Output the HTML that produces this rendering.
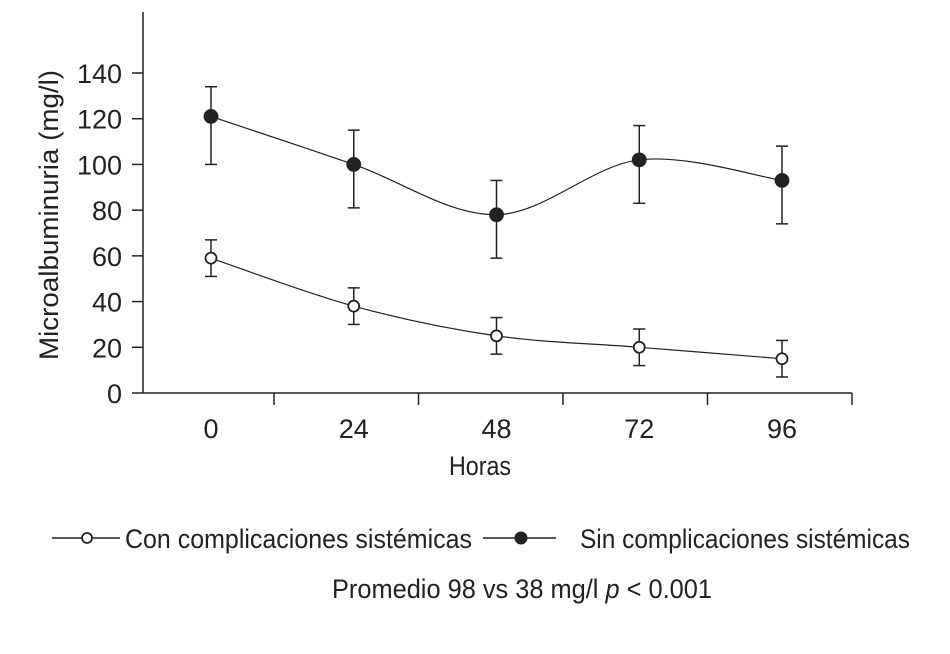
<!DOCTYPE html>
<html><head><meta charset="utf-8"><style>body{margin:0;background:#fff}svg{display:block}text{font-family:"Liberation Sans Narrow","Liberation Sans",sans-serif;fill:#222}</style></head>
<body>
<svg id="c" width="950" height="654"></svg>
<script>
const hours=[0,24,48,72,96];
const sinMean=[121,100,78,102,93];
const sinLo=[100,81,59,83,74];
const sinHi=[134,115,93,117,108];
const conMean=[59,38,25,20,15];
const conLo=[51,30,17,12,7];
const conHi=[67,46,33,28,23];
const yTicks=[0,20,40,60,80,100,120,140];
const xTickLabels=["0","24","48","72","96"];
const svg=document.getElementById('c');const NS='http://www.w3.org/2000/svg';
const X=h=>211+h*(782-211)/96;const Y=v=>393-v*(393-73)/140;
function mk(t,a,p){const e=document.createElementNS(NS,t);for(const k in a)e.setAttribute(k,a[k]);(p||svg).appendChild(e);return e;}
function line(x1,y1,x2,y2,n){const e=mk('line',{x1,y1,x2,y2,stroke:'#222','stroke-width':1.5});

return e;}
function txt(s,x,y,size,anchor,n,len){const e=mk('text',{x,y,'font-size':size,'text-anchor':anchor});if(len){e.setAttribute('textLength',len);e.setAttribute('lengthAdjust','spacingAndGlyphs');}e.textContent=s;

return e;}
line(143,12,143,393,'y-axis');line(143,393,852,393,'x-axis');
yTicks.forEach(v=>{line(132,Y(v),143,Y(v),'y-tick');txt(String(v),122,Y(v)+10,27,'end','y-tick-label');});
[0,1,2,3,4].forEach(i=>line(274+i*144.5,393,274+i*144.5,405,'x-tick'));
hours.forEach((h,i)=>txt(xTickLabels[i],X(h),438,27,'middle','x-tick-label'));
txt('Horas',480,475,27,'middle','x-axis-title',62);
const yt=txt('Microalbuminuria (mg/l)',0,0,27,'middle','y-axis-title',290);yt.setAttribute('transform','translate(58,215) rotate(-90)');
function curve(ms){const p=ms.map((m,i)=>[X(hours[i]),Y(m)]);let d='M'+p[0];for(let i=0;i<p.length-1;i++){const a=p[i-1]||p[i],b=p[i],c=p[i+1],e=p[i+2]||c;d+=` C${b[0]+(c[0]-a[0])/6},${b[1]+(c[1]-a[1])/6} ${c[0]-(e[0]-b[0])/6},${c[1]-(e[1]-b[1])/6} ${c[0]},${c[1]}`;}return d;}
function series(mean,lo,hi,filled,n){const path=mk('path',{d:curve(mean),fill:'none',stroke:'#222','stroke-width':1.2});


mean.forEach((m,i)=>{const x=X(hours[i]);line(x,Y(lo[i]),x,Y(hi[i]),n+'-error-bar');line(x-6,Y(lo[i]),x+6,Y(lo[i]),n+'-error-cap');line(x-6,Y(hi[i]),x+6,Y(hi[i]),n+'-error-cap');
const c=mk('circle',{cx:x,cy:Y(m),r:filled?6.5:5.5,fill:filled?'#222':'#fff',stroke:'#222','stroke-width':1.8});

});}
series(conMean,conLo,conHi,false,'con-complicaciones');
series(sinMean,sinLo,sinHi,true,'sin-complicaciones');
line(52,538,120,538,'legend-line-con');const l1=mk('circle',{cx:87,cy:538,r:5,fill:'#fff',stroke:'#222','stroke-width':1.8});
txt('Con complicaciones sistémicas',125,548,27,'start','legend-label-con',347);
line(483,538,556,538,'legend-line-sin');const l2=mk('circle',{cx:521,cy:538,r:6.5,fill:'#222'});
txt('Sin complicaciones sistémicas',580,548,27,'start','legend-label-sin',330);
const nt=txt('',332,598,27,'start','note',380);nt.innerHTML='Promedio 98 vs 38 mg/l <tspan font-style="italic">p</tspan> &lt; 0.001';
</script>
</body></html>
